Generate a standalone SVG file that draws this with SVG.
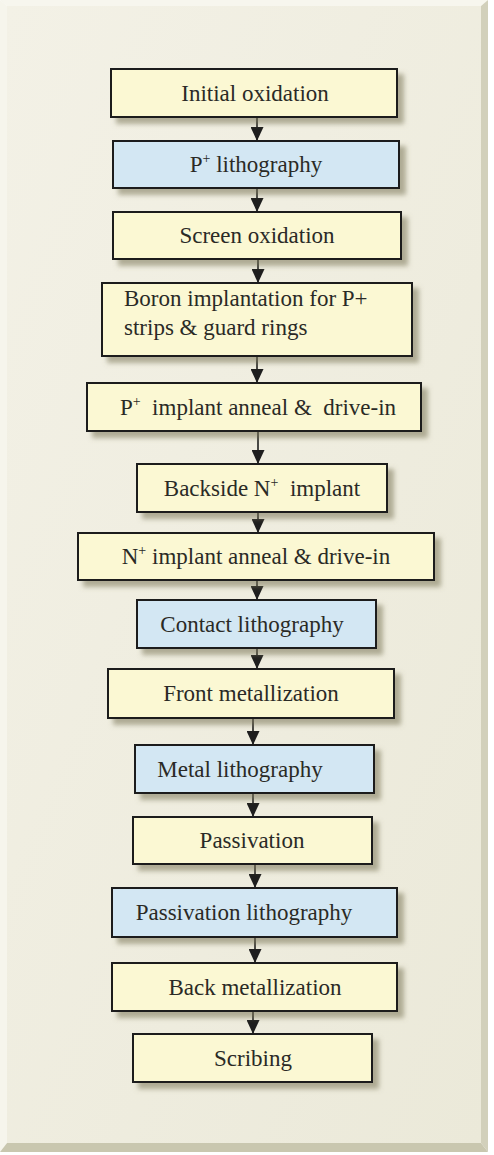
<svg xmlns="http://www.w3.org/2000/svg" width="494" height="1155" viewBox="0 0 494 1155">
<defs>
<style>
.box{stroke:#1e1e1e;stroke-width:2;filter:url(#sh)}
.y{fill:#fbf8d3}
.b{fill:#d3e7f3}
.t{text-anchor:middle}
.c line{stroke:#1e1e1e;stroke-width:1.6;marker-end:url(#ah)}
</style>
<filter id="sh" x="-10%" y="-20%" width="130%" height="160%">
<feDropShadow dx="6" dy="6" stdDeviation="2.5" flood-color="#7a7656" flood-opacity="0.55"/>
</filter>
<linearGradient id="face" x1="0" y1="0" x2="1" y2="1">
<stop offset="0" stop-color="#f3f1e6"/>
<stop offset="1" stop-color="#ebe9d9"/>
</linearGradient>
<marker id="ah" viewBox="0 0 14 13" refX="14" refY="6.5" markerWidth="14" markerHeight="13" markerUnits="userSpaceOnUse" orient="auto">
<path d="M0,0 L14,6.5 L0,13 z" fill="#1e1e1e"/>
</marker>
</defs>
<rect x="0" y="0" width="494" height="1155" fill="#ffffff"/>
<g id="panel">
<polygon points="0,0 488,0 481,6 7,6" fill="#f7f6ee"/>
<polygon points="0,0 7,6 7,1143 0,1152" fill="#f6f5ec"/>
<polygon points="488,0 488,1152 481,1143 481,6" fill="#d2d0bb"/>
<polygon points="0,1152 488,1152 481,1143 7,1143" fill="#c9c7af"/>
<rect x="7" y="6" width="474" height="1137" fill="url(#face)"/>
</g>
<g class="c" id="connectors">
<line x1="257" y1="117" x2="257" y2="141"/>
<line x1="257" y1="188" x2="257" y2="212"/>
<line x1="258" y1="259" x2="258" y2="283"/>
<line x1="257" y1="356" x2="257" y2="383"/>
<line x1="258" y1="431" x2="258" y2="464"/>
<line x1="258" y1="512" x2="258" y2="533"/>
<line x1="257" y1="580" x2="257" y2="600"/>
<line x1="257" y1="648" x2="257" y2="669"/>
<line x1="253" y1="718" x2="253" y2="745"/>
<line x1="253" y1="793" x2="253" y2="817"/>
<line x1="255" y1="864" x2="255" y2="888"/>
<line x1="255" y1="937" x2="255" y2="963"/>
<line x1="253" y1="1011" x2="253" y2="1034"/>
</g>
<g id="nodes" font-family="Liberation Serif, Times New Roman, serif" font-size="23" fill="#2a2a26">
<g id="n1"><rect class="box y" x="111" y="69" width="286" height="48"/><text class="t" x="255" y="101">Initial oxidation</text></g>
<g id="n2"><rect class="box b" x="113" y="141" width="286" height="47"/><text class="t" x="256" y="172">P<tspan font-size="14" dy="-9">+</tspan><tspan dy="9"> lithography</tspan></text></g>
<g id="n3"><rect class="box y" x="113" y="212" width="288" height="47"/><text class="t" x="257" y="243">Screen oxidation</text></g>
<g id="n4"><rect class="box y" x="102" y="283" width="310" height="73"/><text x="124" y="306">Boron implantation for P+</text><text x="124" y="335">strips &amp; guard rings</text></g>
<g id="n5"><rect class="box y" x="87" y="383" width="334" height="48"/><text class="t" x="258" y="415" xml:space="preserve">P<tspan font-size="14" dy="-9">+</tspan><tspan dy="9">  implant anneal &amp;  drive-in</tspan></text></g>
<g id="n6"><rect class="box y" x="137" y="464" width="250" height="48"/><text class="t" x="262" y="496" xml:space="preserve">Backside N<tspan font-size="14" dy="-9">+</tspan><tspan dy="9">  implant</tspan></text></g>
<g id="n7"><rect class="box y" x="78" y="533" width="356" height="47"/><text class="t" x="256" y="564">N<tspan font-size="14" dy="-9">+</tspan><tspan dy="9"> implant anneal &amp; drive-in</tspan></text></g>
<g id="n8"><rect class="box b" x="137" y="600" width="239" height="48"/><text class="t" x="252" y="632">Contact lithography</text></g>
<g id="n9"><rect class="box y" x="108" y="669" width="286" height="49"/><text class="t" x="251" y="701">Front metallization</text></g>
<g id="n10"><rect class="box b" x="135" y="745" width="239" height="48"/><text class="t" x="240" y="777">Metal lithography</text></g>
<g id="n11"><rect class="box y" x="133" y="817" width="239" height="47"/><text class="t" x="252" y="848">Passivation</text></g>
<g id="n12"><rect class="box b" x="112" y="888" width="285" height="49"/><text class="t" x="244" y="920">Passivation lithography</text></g>
<g id="n13"><rect class="box y" x="112" y="963" width="285" height="48"/><text class="t" x="255" y="995">Back metallization</text></g>
<g id="n14"><rect class="box y" x="133" y="1034" width="239" height="48"/><text class="t" x="253" y="1066">Scribing</text></g>
</g>
</svg>
